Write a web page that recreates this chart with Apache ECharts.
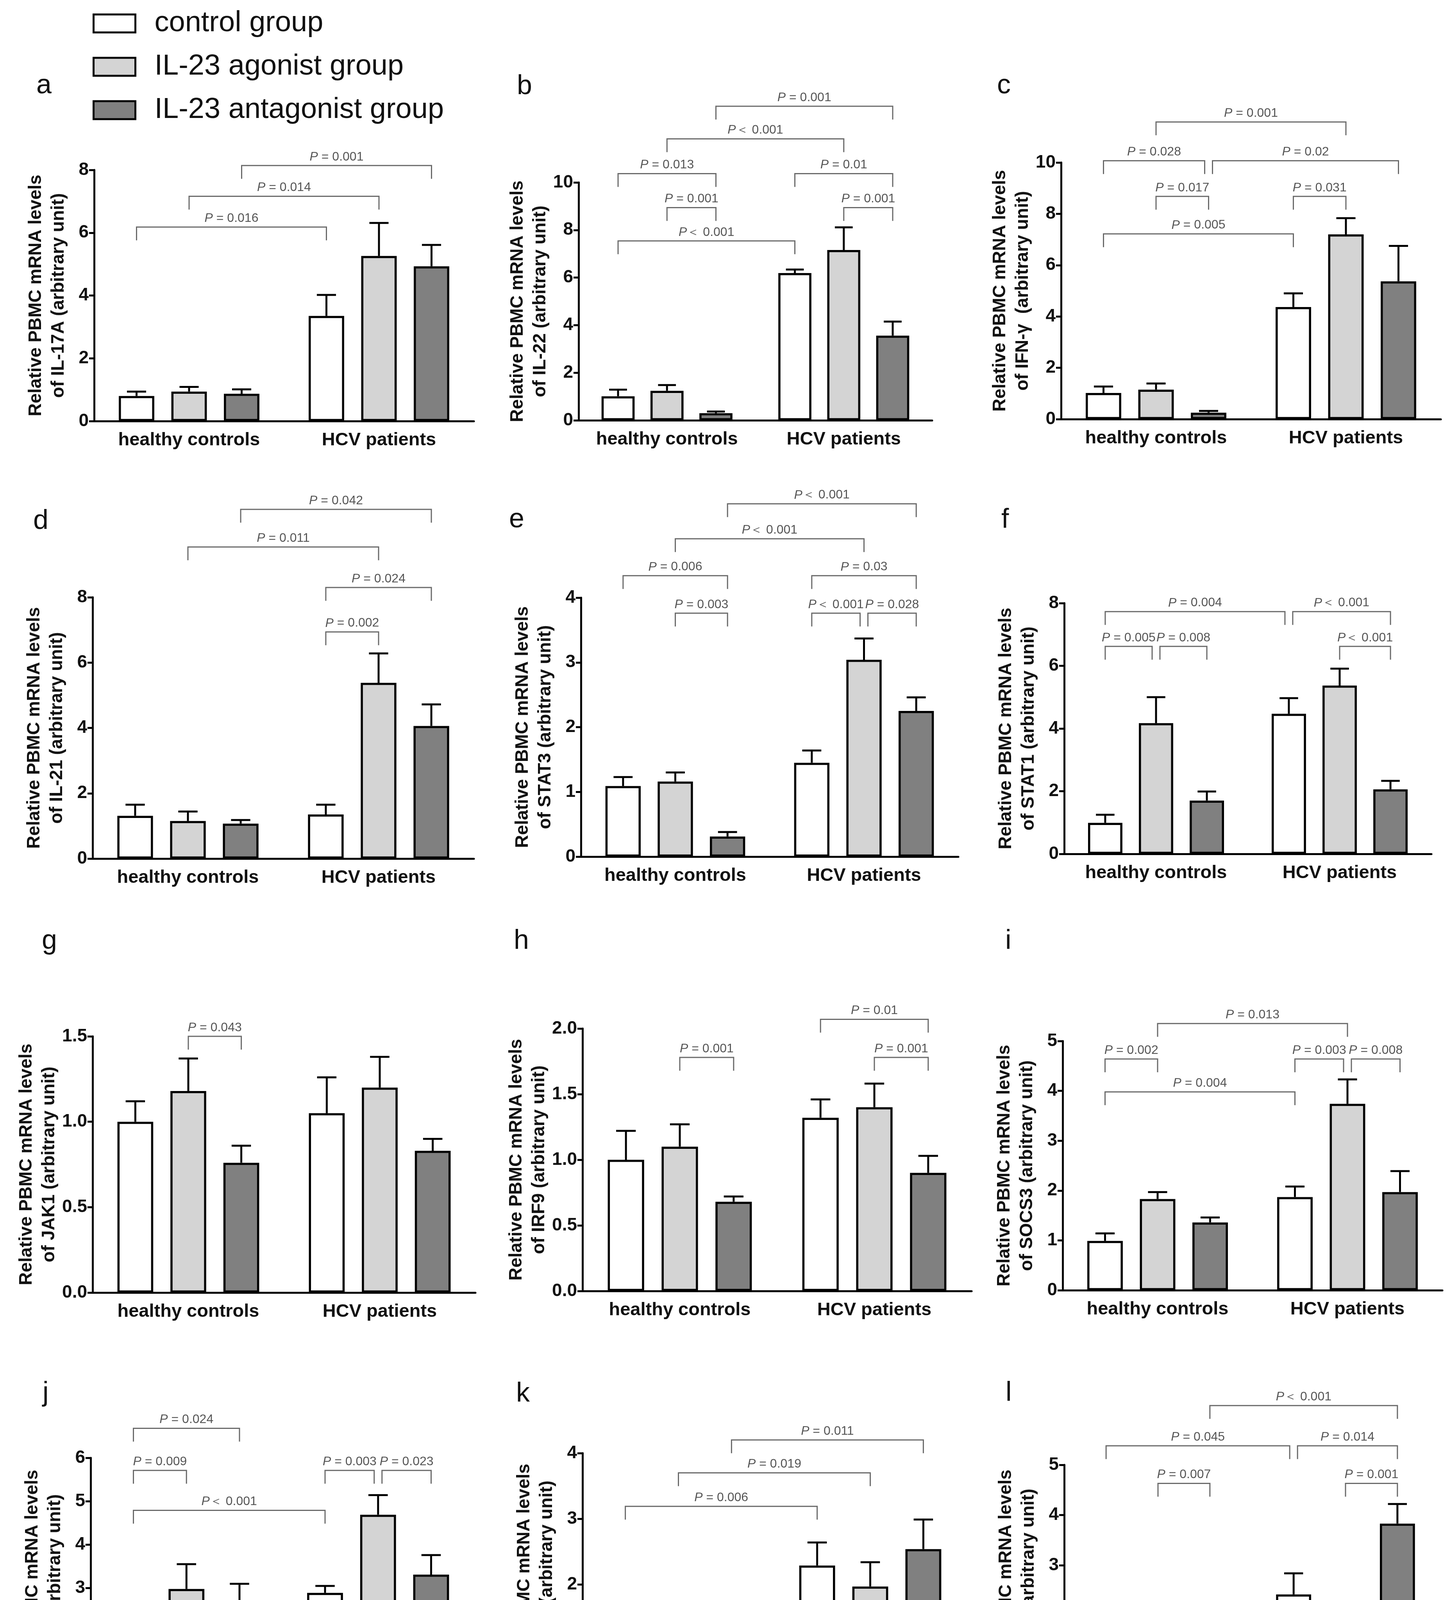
<!DOCTYPE html>
<html>
<head>
<meta charset="utf-8">
<title>PBMC mRNA levels</title>
<script src="https://cdn.jsdelivr.net/npm/echarts@6.0.0/dist/echarts.min.js"></script>
<style>
  html, body { margin: 0; padding: 0; background: #fff; }
  #main { width: 3714px; height: 4508px; }
</style>
</head>
<body>
<div id="main"></div>
<script>
// data
const categories = ['healthy controls', 'HCV patients'];
const groupNames = ['control group', 'IL-23 agonist group', 'IL-23 antagonist group'];
const panelLetters = ['a', 'b', 'c', 'd', 'e', 'f', 'g', 'h', 'i', 'j', 'k', 'l'];
const axisTitles = [
  'Relative PBMC mRNA levels\nof IL-17A (arbitrary unit)',
  'Relative PBMC mRNA levels\nof IL-22 (arbitrary unit)',
  'Relative PBMC mRNA levels\nof IFN-γ  (arbitrary unit)',
  'Relative PBMC mRNA levels\nof IL-21 (arbitrary unit)',
  'Relative PBMC mRNA levels\nof STAT3 (arbitrary unit)',
  'Relative PBMC mRNA levels\nof STAT1 (arbitrary unit)',
  'Relative PBMC mRNA levels\nof JAK1 (arbitrary unit)',
  'Relative PBMC mRNA levels\nof IRF9 (arbitrary unit)',
  'Relative PBMC mRNA levels\nof SOCS3 (arbitrary unit)',
  'RelativePBMC mRNA levels\nof MxA (arbitrary unit)',
  'Relative PBMC mRNA levels\nof GATA3 (arbitrary unit)',
  'Relative PBMC mRNA levels\nof FoxP3 (arbitrary unit)'
];
const yMax = [8, 10, 10, 8, 4, 8, 1.5, 2, 5, 6, 4, 5];
const yStep = [2, 2, 2, 2, 1, 2, 0.5, 0.5, 1, 1, 1, 1];

// [healthy, HCV] per panel
const controlMean = [[0.80, 3.35], [1.01, 6.19], [1.02, 4.37], [1.31, 1.35], [1.09, 1.45], [0.99, 4.47],
  [1.00, 1.05], [1.00, 1.32], [0.99, 1.87], [1.01, 2.89], [0.99, 2.29], [1.01, 2.42]];
const controlSem = [[0.14, 0.67], [0.28, 0.15], [0.25, 0.53], [0.34, 0.30], [0.14, 0.19], [0.26, 0.50],
  [0.12, 0.21], [0.22, 0.14], [0.15, 0.21], [0.15, 0.16], [0.21, 0.35], [0.24, 0.42]];
const agonistMean = [[0.94, 5.26], [1.24, 7.16], [1.15, 7.20], [1.15, 5.38], [1.16, 3.04], [4.17, 5.37],
  [1.18, 1.20], [1.10, 1.40], [1.83, 3.74], [2.98, 4.69], [0.87, 1.97], [0.47, 0.92]];
const agonistSem = [[0.15, 1.05], [0.24, 0.95], [0.24, 0.63], [0.29, 0.90], [0.14, 0.33], [0.83, 0.54],
  [0.19, 0.18], [0.17, 0.18], [0.14, 0.49], [0.57, 0.45], [0.18, 0.37], [0.05, 0.26]];
const antagonistMean = [[0.87, 4.93], [0.30, 3.56], [0.25, 5.37], [1.07, 4.06], [0.31, 2.25], [1.70, 2.06],
  [0.76, 0.83], [0.68, 0.90], [1.36, 1.97], [2.72, 3.31], [0.93, 2.54], [1.53, 3.83]];
const antagonistSem = [[0.14, 0.68], [0.07, 0.59], [0.07, 1.38], [0.11, 0.66], [0.07, 0.21], [0.29, 0.27],
  [0.10, 0.07], [0.04, 0.13], [0.10, 0.42], [0.38, 0.45], [0.08, 0.45], [0.13, 0.39]];

// significance brackets: [from bar, to bar, level, text]; bars 0-2 healthy, 3-5 HCV
const pTests = [
  [[0, 3, 6.18, '= 0.016'], [1, 4, 7.16, '= 0.014'], [2, 5, 8.14, '= 0.001']],
  [[0, 3, 7.54, '＜ 0.001'], [1, 2, 8.94, '= 0.001'], [0, 2, 10.37, '= 0.013'], [1, 4, 11.83, '＜ 0.001'],
   [2, 5, 13.2, '= 0.001'], [3, 5, 10.37, '= 0.01'], [4, 5, 8.94, '= 0.001']],
  [[0, 3, 7.22, '= 0.005'], [1, 2, 8.68, '= 0.017'], [3, 4, 8.68, '= 0.031'], [0, 2, 10.07, '= 0.028'],
   [2, 5, 10.07, '= 0.02'], [1, 4, 11.58, '= 0.001']],
  [[3, 4, 6.94, '= 0.002'], [3, 5, 8.30, '= 0.024'], [1, 4, 9.54, '= 0.011'], [2, 5, 10.69, '= 0.042']],
  [[1, 2, 3.76, '= 0.003'], [0, 2, 4.34, '= 0.006'], [3, 4, 3.76, '＜ 0.001'], [4, 5, 3.76, '= 0.028'],
   [3, 5, 4.34, '= 0.03'], [1, 4, 4.91, '＜ 0.001'], [2, 5, 5.45, '＜ 0.001']],
  [[0, 1, 6.62, '= 0.005'], [1, 2, 6.62, '= 0.008'], [4, 5, 6.62, '＜ 0.001'], [0, 3, 7.73, '= 0.004'],
   [3, 5, 7.73, '＜ 0.001']],
  [[1, 2, 1.50, '= 0.043']],
  [[1, 2, 1.78, '= 0.001'], [4, 5, 1.78, '= 0.001'], [3, 5, 2.07, '= 0.01']],
  [[0, 3, 3.98, '= 0.004'], [0, 1, 4.64, '= 0.002'], [3, 4, 4.64, '= 0.003'], [4, 5, 4.64, '= 0.008'],
   [1, 4, 5.35, '= 0.013']],
  [[0, 3, 4.79, '＜ 0.001'], [0, 1, 5.71, '= 0.009'], [3, 4, 5.71, '= 0.003'], [4, 5, 5.71, '= 0.023'],
   [0, 2, 6.68, '= 0.024']],
  [[0, 3, 3.19, '= 0.006'], [1, 4, 3.70, '= 0.019'], [2, 5, 4.20, '= 0.011']],
  [[1, 2, 4.63, '= 0.007'], [4, 5, 4.63, '= 0.001'], [0, 3, 5.38, '= 0.045'], [3, 5, 5.38, '= 0.014'],
   [2, 5, 6.18, '＜ 0.001']]
];

// layout
const gridRects = [
  [241, 435, 972, 643], [1481, 467, 905, 609], [2716, 416, 972, 657],
  [237, 1529, 976, 669], [1487, 1530, 966, 663], [2724, 1544, 940, 642],
  [237, 2653, 980, 656], [1491, 2633, 996, 672], [2720, 2665, 972, 638],
  [232, 3732, 981, 667], [1491, 3720, 982, 673], [2724, 3750, 960, 643]
];
const letterPos = [
  [93, 255], [1323, 257], [2552, 255],
  [85, 1370], [1303, 1366], [2563, 1367],
  [107, 2445], [1315, 2445], [2573, 2445],
  [109, 3602], [1321, 3604], [2574, 3602]
];

const FONT = '"Liberation Sans", Arial, Helvetica, sans-serif';
const INK = '#111';
const BAR_W = 0.187;
const BAR_GAP = 0.48;
const LINE_W = 5;
const fills = ['#ffffff', '#d4d4d4', '#808080'];
const means = [controlMean, agonistMean, antagonistMean];
const sems = [controlSem, agonistSem, antagonistSem];

function barX(api, k) {
  const band = api.size([1, 0])[0];
  const step = band * BAR_W * (1 + BAR_GAP);
  const cat = k < 3 ? 0 : 1;
  return api.coord([cat, 0])[0] + (k % 3 - 1) * step;
}

function errorRender(s) {
  return function (params, api) {
    const band = api.size([1, 0])[0];
    const cat = api.value(0);
    const x = barX(api, cat * 3 + s);
    const yBase = api.coord([cat, api.value(1)])[1];
    const yTop = api.coord([cat, api.value(1) + api.value(2)])[1];
    const cap = band * BAR_W * 0.27;
    const st = { stroke: '#000', lineWidth: LINE_W };
    return {
      type: 'group',
      children: [
        { type: 'line', shape: { x1: x, y1: yBase, x2: x, y2: yTop }, style: st },
        { type: 'line', shape: { x1: x - cap, y1: yTop, x2: x + cap, y2: yTop }, style: st }
      ]
    };
  };
}

function bracketRender(tests) {
  // nudge brackets apart where two at the same level share a bar
  const insets = tests.map(function (t) {
    let l = 0, r = 0;
    tests.forEach(function (o) {
      if (o === t || o[2] !== t[2]) return;
      if (o[1] === t[0]) l = 10;
      if (o[0] === t[1]) r = 10;
    });
    return [l, r];
  });
  return function (params, api) {
    const t = tests[params.dataIndex];
    const x1 = barX(api, t[0]) + insets[params.dataIndex][0];
    const x2 = barX(api, t[1]) - insets[params.dataIndex][1];
    const y = api.coord([0, t[2]])[1];
    const tick = 34;
    const sep = t[3].charAt(0) === '＜' ? '' : ' ';
    return {
      type: 'group',
      children: [
        {
          type: 'polyline',
          shape: { points: [[x1, y + tick], [x1, y], [x2, y], [x2, y + tick]] },
          style: { stroke: '#6a6a6a', lineWidth: 3, fill: null }
        },
        {
          type: 'text',
          x: (x1 + x2) / 2,
          y: y - 6,
          style: {
            text: '{p|P}{n|' + sep + t[3] + '}',
            align: 'center',
            verticalAlign: 'bottom',
            fill: '#555',
            fontSize: 32,
            fontFamily: FONT,
            rich: {
              p: { fontStyle: 'italic', fontSize: 32, fontFamily: FONT, fill: '#555' },
              n: { fontSize: 32, fontFamily: FONT, fill: '#555' }
            }
          }
        }
      ]
    };
  };
}

const grid = [], xAxis = [], yAxis = [], series = [], graphic = [];

panelLetters.forEach(function (letter, p) {
  const r = gridRects[p];
  grid.push({ left: r[0], top: r[1], width: r[2], height: r[3], containLabel: false, outerBoundsMode: 'none' });

  xAxis.push({
    type: 'category',
    gridIndex: p,
    data: categories,
    axisLine: { lineStyle: { color: '#000', width: LINE_W } },
    axisTick: { alignWithLabel: true, length: 16, lineStyle: { color: '#000', width: LINE_W } },
    axisLabel: { fontSize: 47, fontWeight: 'bold', fontFamily: FONT, color: INK, margin: 26, interval: 0 },
    splitLine: { show: false }
  });

  yAxis.push({
    type: 'value',
    gridIndex: p,
    min: 0,
    max: yMax[p],
    interval: yStep[p],
    name: axisTitles[p],
    nameLocation: 'middle',
    nameGap: 62,
    nameTextStyle: { fontSize: 46, fontWeight: 'bold', fontFamily: FONT, color: INK, lineHeight: 58 },
    axisLine: { show: true, lineStyle: { color: '#000', width: LINE_W } },
    axisTick: { show: true, length: 13, lineStyle: { color: '#000', width: LINE_W } },
    axisLabel: {
      fontSize: 46, fontWeight: 'bold', fontFamily: FONT, color: INK, margin: 14,
      formatter: function (v) { return yStep[p] < 1 ? v.toFixed(1) : String(v); }
    },
    splitLine: { show: false }
  });

  for (let s = 0; s < 3; s++) {
    series.push({
      type: 'bar',
      name: groupNames[s],
      xAxisIndex: p,
      yAxisIndex: p,
      data: means[s][p],
      barWidth: (BAR_W * 100) + '%',
      barGap: (BAR_GAP * 100) + '%',
      itemStyle: { color: fills[s], borderColor: '#000', borderWidth: 5.5 },
      emphasis: { disabled: true },
      z: 2
    });
  }
  for (let s = 0; s < 3; s++) {
    series.push({
      type: 'custom',
      xAxisIndex: p,
      yAxisIndex: p,
      data: categories.map(function (c, k) { return [k, means[s][p][k], sems[s][p][k]]; }),
      encode: { x: 0, y: 1 },
      renderItem: errorRender(s),
      clip: false,
      silent: true,
      z: 3
    });
  }
  series.push({
    type: 'custom',
    xAxisIndex: p,
    yAxisIndex: p,
    data: pTests[p].map(function (t) { return [0, t[2]]; }),
    encode: { x: 0, y: 1 },
    renderItem: bracketRender(pTests[p]),
    clip: false,
    silent: true,
    z: 4
  });

  graphic.push({
    type: 'text',
    x: letterPos[p][0],
    y: letterPos[p][1],
    style: { text: letter, fontSize: 70, fontFamily: FONT, fill: INK, align: 'left', verticalAlign: 'bottom' }
  });
});

const chart = echarts.init(document.getElementById('main'));
chart.setOption({
  backgroundColor: '#ffffff',
  animation: false,
  legend: {
    data: groupNames,
    orient: 'vertical',
    left: 237,
    top: 23,
    padding: 0,
    itemWidth: 107,
    itemHeight: 46,
    itemGap: 37,
    icon: 'rect',
    selectedMode: false,
    itemStyle: { borderColor: '#000', borderWidth: 5 },
    textStyle: { fontSize: 74, fontFamily: FONT, color: INK, lineHeight: 46, padding: [0, 0, 0, 44] }
  },
  grid: grid,
  xAxis: xAxis,
  yAxis: yAxis,
  series: series,
  graphic: graphic
});
</script>
</body>
</html>
